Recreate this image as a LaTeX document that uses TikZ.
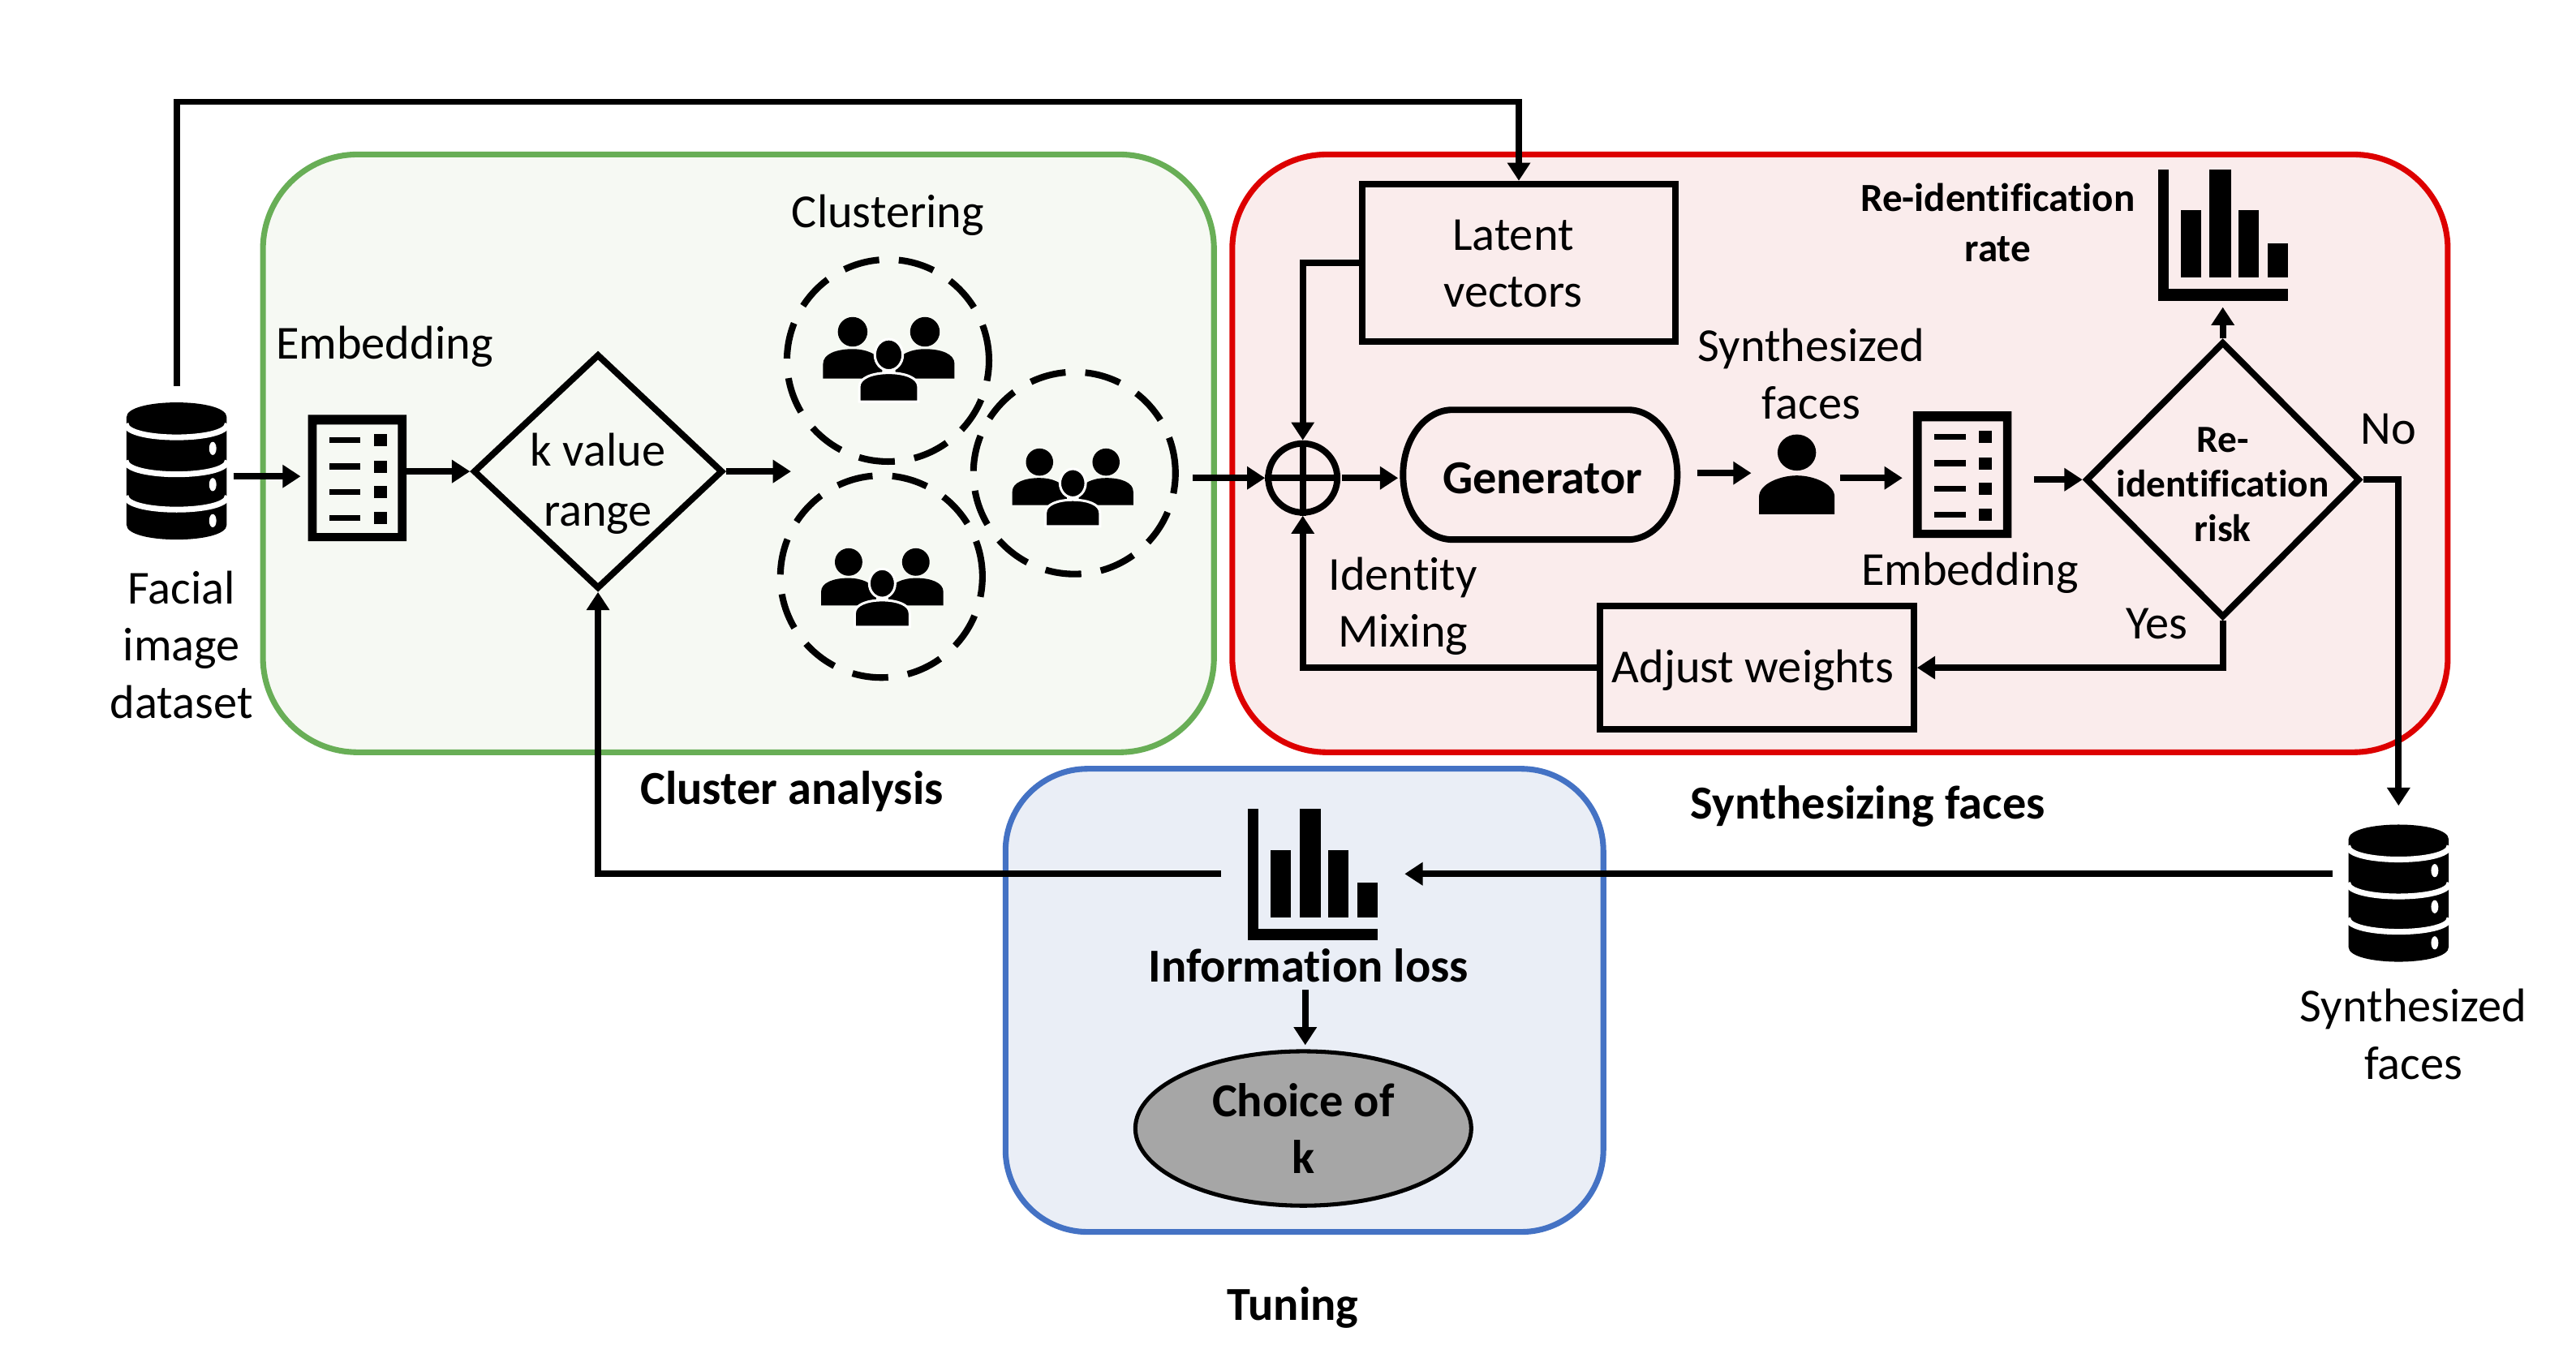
\documentclass[tikz,border=0pt]{standalone}
\usepackage{fontspec}
\setmainfont{Carlito}[Ligatures=CommonOff]
\usetikzlibrary{positioning, arrows.meta, shapes.geometric}

\tikzset{
  pics/dbicon/.style={code={
    \fill[black] (-30.5,-32.5) .. controls (-30.5,-44.5) and (30.5,-44.5) .. (30.5,-32.5)
      -- (30.5,33) .. controls (30.5,45) and (-30.5,45) .. (-30.5,33) -- cycle;
    \foreach \ry in {-28.5,-6,15.5}
      \draw[white, line width=0.07cm] (-31,\ry) .. controls (-30.5,\ry+11) and (30.5,\ry+11) .. (31,\ry);
    \foreach \ry in {-13.5,8.5,30.5}
      \fill[white] (22,\ry) ellipse [x radius=2.2, y radius=4];
  }},
  pics/docicon/.style={code={
    \fill[black, even odd rule] (-30,-38.5) rectangle (30,38.5) (-24.7,-32.5) rectangle (24.7,33.5);
    \foreach \ry in {-23,-7,8.7,24.5} {
      \fill[black] (-17,\ry-1.8) rectangle (2,\ry+1.8);
      \fill[black] (10,\ry-3.7) rectangle (18,\ry+3.7);
    }
  }},
  pics/charticon/.style={code={
    \fill[black] (-39.5,-40) rectangle (-33,40);
    \fill[black] (-39.5,33) rectangle (39.5,40);
    \fill[black] (-25.7,-15) rectangle (-13.1,26);
    \fill[black] (-8,-40) rectangle (4.9,26);
    \fill[black] (9.5,-15) rectangle (21.9,26);
    \fill[black] (27.2,5) rectangle (39.5,26);
  }},
  pics/personicon/.style={code={
    \fill[black] (0,-13) ellipse [x radius=11.7, y radius=11];
    \fill[black] (-23,24.5) -- (-23,14) .. controls (-23,6) and (-10,1) .. (0,1)
      .. controls (10,1) and (23,6) .. (23,14) -- (23,24.5) -- cycle;
  }},
  pics/peopleicon/.style={code={
    \fill[black] (-22,-16.5) ellipse [x radius=9, y radius=9];
    \fill[black] (22,-16.5) ellipse [x radius=9, y radius=9];
    \fill[black] (-40,12) -- (-40,3) .. controls (-40,-3) and (-32,-6) .. (-22,-6)
      .. controls (-14,-6) and (-6,-3) .. (-4,3) -- (-4,12) -- cycle;
    \fill[black] (40,12) -- (40,3) .. controls (40,-3) and (32,-6) .. (22,-6)
      .. controls (14,-6) and (6,-3) .. (4,3) -- (4,12) -- cycle;
    \filldraw[black, draw=white, line width=0.03cm] (0,-2.5) ellipse [x radius=8.5, y radius=9.5];
    \filldraw[black, draw=white, line width=0.03cm] (-18,26) -- (-18,17) .. controls (-18,11.5) and (-10,8.5) .. (0,8.5)
      .. controls (10,8.5) and (18,11.5) .. (18,17) -- (18,26) -- cycle;
  }},
}

\begin{document}
\begin{tikzpicture}[
    x=0.02cm, y=-0.02cm,
    >={Triangle[length=0.22cm, width=0.27cm]},
    flowline/.style={draw=black, line width=0.078cm},
    panel/.style={rectangle, rounded corners=1.15cm, line width=0.07cm, inner sep=0pt},
    box/.style={rectangle, draw=black, line width=0.078cm, inner sep=0pt},
    gate/.style={diamond, draw=black, line width=0.078cm, inner sep=0pt},
    iconbox/.style={rectangle, inner sep=0pt, outer sep=0pt},
    blob/.style={circle, draw=black, line width=0.08cm, dash pattern=on 0.44cm off 0.24cm, minimum size=2.46cm, inner sep=0pt},
    txt/.style={font=\fontsize{16.4}{19.9}\selectfont, align=center, inner sep=0pt},
    boldtxt/.style={font=\fontsize{16.4}{19.9}\selectfont\bfseries, align=center, inner sep=0pt},
    smalltxt/.style={font=\fontsize{13.3}{15.4}\selectfont\bfseries, align=center, inner sep=0pt},
]

% ── Colors ──
\definecolor{clusterborder}{HTML}{68AE56}
\definecolor{clusterfill}{HTML}{F6F9F3}
\definecolor{synthborder}{HTML}{DD0000}
\definecolor{synthfill}{HTML}{FAECEC}
\definecolor{tuneborder}{HTML}{4472C4}
\definecolor{tunefill}{HTML}{EAEEF6}
\definecolor{choicefill}{HTML}{A6A6A6}

\path[use as bounding box, fill=white] (0,0) rectangle (1568,818.8);

% ══════════════════════════════════════════════
% Three panels
% ══════════════════════════════════════════════
\node[panel, draw=clusterborder, fill=clusterfill, minimum width=11.58cm, minimum height=7.28cm] (cluster) at (449.5,276) {};
\node[panel, draw=synthborder, fill=synthfill, minimum width=14.8cm, minimum height=7.28cm] (synth) at (1120,276) {};
\node[panel, draw=tuneborder, fill=tunefill, minimum width=7.28cm, minimum height=5.64cm, rounded corners=1cm] (tune) at (794,609) {};

\node[boldtxt] (clustertitle) at (482,482) {Cluster analysis};
\node[boldtxt] (synthtitle) at (1137,491) {Synthesizing faces};
\node[boldtxt] (tunetitle) at (787,796) {Tuning};

% ══════════════════════════════════════════════
% Left: dataset, embedding, k range
% ══════════════════════════════════════════════
\node[iconbox, minimum width=1.38cm, minimum height=2.2cm] (dbin) at (107.5,290) {};
\pic at (107.5,286.5) {dbicon};
\node[txt] (dbinlabel) at (110.5,392.5) {Facial\\image\\dataset};

\node[iconbox, minimum width=1.28cm, minimum height=1.6cm] (embone) at (215,287) {};
\pic at (217.5,291) {docicon};
\node[txt] (embonelabel) at (234,211) {Embedding};

\node[gate, minimum width=3.04cm, minimum height=2.86cm] (krange) at (364,287) {};
\node[txt] (krangetext) at (364,294.5) {k value\\[1pt]range};

% ══════════════════════════════════════════════
% Clusters
% ══════════════════════════════════════════════
\node[txt] (clusterlabel) at (540.5,131) {Clustering};
\node[blob] (blobone) at (540.5,219.5) {};
\node[blob] (blobtwo) at (654,288) {};
\node[blob] (blobthree) at (536.5,351) {};
\pic at (541,218.5) {peopleicon};
\pic[scale=0.92] at (653,296.5) {peopleicon};
\pic[scale=0.93] at (537,357.5) {peopleicon};
\coordinate (clusterin) at (481.5,287);
\coordinate (clusterout) at (726,291);

% ══════════════════════════════════════════════
% Right: generator chain
% ══════════════════════════════════════════════
\node[box, minimum width=3.82cm, minimum height=1.92cm] (latent) at (924.5,160) {};
\node[txt] (latenttext) at (921,160.5) {Latent\\vectors};
\node[circle, draw=black, line width=0.078cm, minimum size=0.84cm, inner sep=0pt] (mix) at (793,291) {};
\draw[flowline] (mix.north) -- (mix.south) (mix.west) -- (mix.east);
\node[txt] (mixlabel) at (854,369) {Identity\\Mixing};

\node[iconbox, minimum width=3.34cm, minimum height=1.58cm] (gen) at (937.5,289) {};
\draw[flowline] (gen.west) .. controls +(0,-22) and +(-16.5,0) .. ([xshift=0.6cm]gen.north west)
    -- ([xshift=-0.6cm]gen.north east) .. controls +(16.5,0) and +(0,-22) .. (gen.east)
    .. controls +(0,22) and +(16.5,0) .. ([xshift=-0.6cm]gen.south east)
    -- ([xshift=0.6cm]gen.south west) .. controls +(-16.5,0) and +(0,22) .. (gen.west) -- cycle;
\node[boldtxt] (gentext) at (939,291) {Generator};

\node[txt] (synthlabel) at (1102.5,227.5) {Synthesized\\faces};
\node[iconbox, minimum width=1.08cm, minimum height=1cm] (person) at (1093,288) {};
\pic at (1093.7,288.5) {personicon};

\node[iconbox, minimum width=1.6cm, minimum height=1.6cm] (embtwo) at (1198,291) {};
\pic at (1194.5,289) {docicon};
\node[txt] (embtwolabel) at (1199,349) {Embedding};

\node[gate, minimum width=3.34cm, minimum height=3.36cm] (risk) at (1353,292) {};
\node[smalltxt] (risktext) at (1353,295) {Re-\\identification\\risk};

\node[iconbox, minimum width=1.6cm, minimum height=1.7cm] (rate) at (1353,144.5) {};
\pic at (1353,143) {charticon};
\node[smalltxt, font=\fontsize{13.8}{17.6}\selectfont\bfseries] (ratelabel) at (1216,135.5) {Re-identification\\rate};

\node[box, minimum width=3.82cm, minimum height=1.5cm] (adjust) at (1069.5,406.5) {};
\node[txt] (adjusttext) at (1067,408) {Adjust weights};
\node[txt] (nolabel) at (1454,261) {No};
\node[txt] (yeslabel) at (1313,380) {Yes};

% ══════════════════════════════════════════════
% Output and tuning
% ══════════════════════════════════════════════
\node[iconbox, minimum width=1.6cm, minimum height=2.1cm] (dbout) at (1460,543) {};
\pic at (1460,543.5) {dbicon};
\node[txt] (dboutlabel) at (1469,629.5) {Synthesized\\faces};

\node[iconbox, minimum width=2.24cm, minimum height=1.6cm] (loss) at (799,532) {};
\pic at (799,532.5) {charticon};
\node[boldtxt] (losstext) at (796.5,588) {Information loss};

\node[ellipse, draw=black, line width=0.05cm, fill=choicefill, minimum width=4.09cm, minimum height=1.88cm,
    inner sep=0pt, boldtxt] (choice) at (793.3,687) {Choice of\\k};

% ══════════════════════════════════════════════
% Flow arrows
% ══════════════════════════════════════════════
\draw[->, flowline] (dbin.north) -- ++(0,-173) -| (latent.north);
\draw[->, flowline] (dbin.east) -- (dbin.east -| embone.west);
\draw[->, flowline] (embone.east) -- (krange.west);
\draw[->, flowline] (krange.east) -- (clusterin);
\draw[->, flowline] (clusterout) -- (mix.west);
\draw[->, flowline, shorten <=0.02cm, shorten >=0.06cm] (mix.east) -- (mix.east -| gen.west);
\draw[->, flowline] (latent.west) -| (mix.north);
\draw[->, flowline] (adjust.west) -| (mix.south);
\draw[->, flowline, shorten <=0.24cm] (gen.east |- person.west) -- (person.west);
\draw[->, flowline] (person.east |- embtwo.west) -- (embtwo.west);
\draw[->, flowline] (embtwo.east |- risk.west) -- (risk.west);
\draw[->, flowline] (risk.north) -- (rate.south);
\draw[->, flowline] (risk.south) |- (adjust.east);
\draw[->, flowline] (risk.east) -| (dbout.north);
\draw[->, flowline] (dbout.west |- loss.east) -- (loss.east);
\draw[->, flowline] (loss.west) -| (krange.south);
\draw[->, flowline, shorten >=0.05cm] ([xshift=-0.04cm, yshift=-0.08cm]losstext.south) -- ([xshift=-0.04cm]losstext.south |- choice.north);

\end{tikzpicture}
\end{document}
